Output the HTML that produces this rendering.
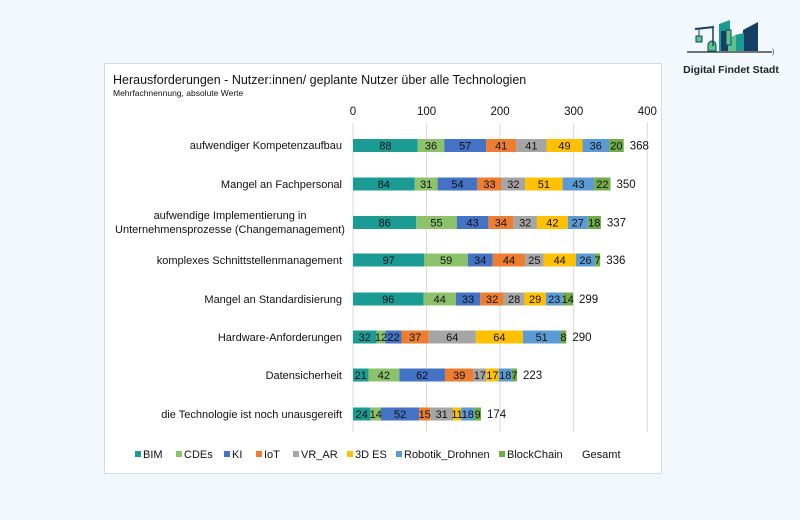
<!DOCTYPE html>
<html><head><meta charset="utf-8"><style>
html,body{margin:0;padding:0;width:800px;height:520px;background:#f3f8fc;overflow:hidden}
svg{display:block;font-family:"Liberation Sans",sans-serif}
.a{fill:#1a9c94}.b{fill:#8cc36a}.c{fill:#4472c4}.d{fill:#ed7d31}.e{fill:#a5a5a5}.f{fill:#ffc000}.g{fill:#5b9bd5}.h{fill:#70ad47}
.v text{font-size:11px;fill:#111;text-anchor:middle}
.v text.t{text-anchor:start;font-size:11.5px}
</style></head><body>
<svg width="800" height="520" xmlns="http://www.w3.org/2000/svg">
<g>
<line x1="687" y1="52" x2="772" y2="52" stroke="#444" stroke-width="1.5"/>
<polygon points="719,51 719,24 730,20 730,51" fill="#1a9c94"/>
<polygon points="721,51 721,31 728,31 728,51" fill="#163f66"/>
<polygon points="743,51 743,30 758,22 758,51" fill="#163f66"/>
<polygon points="735,51 735,35 744,33 744,51" fill="#1a9c94"/>
<polygon points="728,51 728,38 736,35 736,51" fill="#5cc48a"/>
<rect x="726" y="30" width="5" height="15" fill="#5cc48a" stroke="#163f66" stroke-width="1"/>
<path d="M708,51 v-6 a4,4 0 0 1 8,0 v6z" fill="#5cc48a" stroke="#163f66"/>
<line x1="695" y1="29" x2="714" y2="27" stroke="#163f66" stroke-width="2"/>
<line x1="713" y1="27" x2="713" y2="46" stroke="#163f66" stroke-width="1.5"/>
<line x1="699" y1="29" x2="699" y2="36" stroke="#163f66"/>
<rect x="696" y="36" width="6" height="6" fill="#5cc48a" stroke="#163f66"/>
<text x="772" y="54" font-size="7" fill="#333">)</text>
<text x="731" y="73" font-size="10.5" font-weight="bold" fill="#222" text-anchor="middle">Digital Findet Stadt</text>
</g>
<rect x="104.5" y="63.5" width="557" height="410" fill="#fff" stroke="#d6dbe0"/>
<text x="113" y="84" font-size="12.5" fill="#111">Herausforderungen - Nutzer:innen/ geplante Nutzer über alle Technologien</text>
<text x="113" y="96" font-size="8.5" fill="#111">Mehrfachnennung, absolute Werte</text>
<g stroke="#d9d9d9" stroke-width="1">
<line x1="353" y1="123" x2="353" y2="432"/>
<line x1="426.6" y1="123" x2="426.6" y2="432"/>
<line x1="500.1" y1="123" x2="500.1" y2="432"/>
<line x1="573.7" y1="123" x2="573.7" y2="432"/>
<line x1="647.3" y1="123" x2="647.3" y2="432"/>
</g>
<g font-size="11.5" fill="#111" text-anchor="middle">
<text x="353" y="115">0</text><text x="426.6" y="115">100</text><text x="500.1" y="115">200</text><text x="573.7" y="115">300</text><text x="647.3" y="115">400</text>
</g>
<g font-size="11" fill="#111" text-anchor="end">
<text x="342" y="149">aufwendiger Kompetenzaufbau</text>
<text x="342" y="188">Mangel an Fachpersonal</text>
<text x="230" y="219" text-anchor="middle">aufwendige Implementierung in</text>
<text x="230" y="233" text-anchor="middle">Unternehmensprozesse (Changemanagement)</text>
<text x="342" y="264">komplexes Schnittstellenmanagement</text>
<text x="342" y="303">Mangel an Standardisierung</text>
<text x="342" y="341">Hardware-Anforderungen</text>
<text x="342" y="379">Datensicherheit</text>
<text x="342" y="418">die Technologie ist noch unausgereift</text>
</g>

<g class="v" transform="translate(0,145.5)">
<rect class="a" x="353" y="-6.5" width="64.74" height="13"/><rect class="b" x="417.74" y="-6.5" width="26.49" height="13"/><rect class="c" x="444.23" y="-6.5" width="41.93" height="13"/><rect class="d" x="486.16" y="-6.5" width="30.17" height="13"/><rect class="e" x="516.33" y="-6.5" width="30.16" height="13"/><rect class="f" x="546.49" y="-6.5" width="36.05" height="13"/><rect class="g" x="582.54" y="-6.5" width="26.48" height="13"/><rect class="h" x="609.02" y="-6.5" width="14.72" height="13"/>
<text x="385.4" y="4">88</text><text x="431" y="4">36</text><text x="465.2" y="4">57</text><text x="501.2" y="4">41</text><text x="531.4" y="4">41</text><text x="564.5" y="4">49</text><text x="595.8" y="4">36</text><text x="616.4" y="4">20</text><text class="t" x="629.7" y="4">368</text>
</g>
<g class="v" transform="translate(0,184)">
<rect class="a" x="353" y="-6.5" width="61.8" height="13"/><rect class="b" x="414.8" y="-6.5" width="22.81" height="13"/><rect class="c" x="437.61" y="-6.5" width="39.72" height="13"/><rect class="d" x="477.33" y="-6.5" width="24.28" height="13"/><rect class="e" x="501.61" y="-6.5" width="23.54" height="13"/><rect class="f" x="525.15" y="-6.5" width="37.52" height="13"/><rect class="g" x="562.67" y="-6.5" width="31.64" height="13"/><rect class="h" x="594.31" y="-6.5" width="16.19" height="13"/>
<text x="383.9" y="4">84</text><text x="426.2" y="4">31</text><text x="457.5" y="4">54</text><text x="489.5" y="4">33</text><text x="513.4" y="4">32</text><text x="543.9" y="4">51</text><text x="578.5" y="4">43</text><text x="602.4" y="4">22</text><text class="t" x="616.5" y="4">350</text>
</g>
<g class="v" transform="translate(0,222.5)">
<rect class="a" x="353" y="-6.5" width="63.27" height="13"/><rect class="b" x="416.27" y="-6.5" width="40.46" height="13"/><rect class="c" x="456.73" y="-6.5" width="31.64" height="13"/><rect class="d" x="488.37" y="-6.5" width="25.01" height="13"/><rect class="e" x="513.38" y="-6.5" width="23.55" height="13"/><rect class="f" x="536.93" y="-6.5" width="30.89" height="13"/><rect class="g" x="567.82" y="-6.5" width="19.87" height="13"/><rect class="h" x="587.69" y="-6.5" width="13.24" height="13"/>
<text x="384.6" y="4">86</text><text x="436.5" y="4">55</text><text x="472.6" y="4">43</text><text x="500.9" y="4">34</text><text x="525.2" y="4">32</text><text x="552.4" y="4">42</text><text x="577.8" y="4">27</text><text x="594.3" y="4">18</text><text class="t" x="606.9" y="4">337</text>
</g>
<g class="v" transform="translate(0,260)">
<rect class="a" x="353" y="-6.5" width="71.36" height="13"/><rect class="b" x="424.36" y="-6.5" width="43.41" height="13"/><rect class="c" x="467.77" y="-6.5" width="25.01" height="13"/><rect class="d" x="492.78" y="-6.5" width="32.37" height="13"/><rect class="e" x="525.15" y="-6.5" width="18.4" height="13"/><rect class="f" x="543.55" y="-6.5" width="32.37" height="13"/><rect class="g" x="575.92" y="-6.5" width="19.13" height="13"/><rect class="h" x="595.05" y="-6.5" width="5.15" height="13"/>
<text x="388.7" y="4">97</text><text x="446.1" y="4">59</text><text x="480.3" y="4">34</text><text x="509" y="4">44</text><text x="534.4" y="4">25</text><text x="559.7" y="4">44</text><text x="585.5" y="4">26</text><text x="597.6" y="4">7</text><text class="t" x="606.2" y="4">336</text>
</g>
<g class="v" transform="translate(0,299)">
<rect class="a" x="353" y="-6.5" width="70.63" height="13"/><rect class="b" x="423.63" y="-6.5" width="32.37" height="13"/><rect class="c" x="456" y="-6.5" width="24.28" height="13"/><rect class="d" x="480.28" y="-6.5" width="23.54" height="13"/><rect class="e" x="503.82" y="-6.5" width="20.6" height="13"/><rect class="f" x="524.42" y="-6.5" width="21.33" height="13"/><rect class="g" x="545.75" y="-6.5" width="16.92" height="13"/><rect class="h" x="562.67" y="-6.5" width="10.3" height="13"/>
<text x="388.3" y="4">96</text><text x="439.8" y="4">44</text><text x="468.1" y="4">33</text><text x="492.1" y="4">32</text><text x="514.1" y="4">28</text><text x="535.1" y="4">29</text><text x="554.2" y="4">23</text><text x="567.8" y="4">14</text><text class="t" x="579" y="4">299</text>
</g>
<g class="v" transform="translate(0,337)">
<rect class="a" x="353" y="-6.5" width="23.54" height="13"/><rect class="b" x="376.54" y="-6.5" width="8.83" height="13"/><rect class="c" x="385.37" y="-6.5" width="16.19" height="13"/><rect class="d" x="401.56" y="-6.5" width="27.22" height="13"/><rect class="e" x="428.78" y="-6.5" width="47.08" height="13"/><rect class="f" x="475.86" y="-6.5" width="47.09" height="13"/><rect class="g" x="522.95" y="-6.5" width="37.52" height="13"/><rect class="h" x="560.47" y="-6.5" width="5.88" height="13"/>
<text x="364.8" y="4">32</text><text x="381" y="4">12</text><text x="393.5" y="4">22</text><text x="415.2" y="4">37</text><text x="452.3" y="4">64</text><text x="499.4" y="4">64</text><text x="541.7" y="4">51</text><text x="563.4" y="4">8</text><text class="t" x="572.4" y="4">290</text>
</g>
<g class="v" transform="translate(0,375)">
<rect class="a" x="353" y="-6.5" width="15.45" height="13"/><rect class="b" x="368.45" y="-6.5" width="30.9" height="13"/><rect class="c" x="399.35" y="-6.5" width="45.61" height="13"/><rect class="d" x="444.96" y="-6.5" width="28.69" height="13"/><rect class="e" x="473.65" y="-6.5" width="12.51" height="13"/><rect class="f" x="486.16" y="-6.5" width="12.51" height="13"/><rect class="g" x="498.67" y="-6.5" width="13.24" height="13"/><rect class="h" x="511.91" y="-6.5" width="5.15" height="13"/>
<text x="360.7" y="4">21</text><text x="383.9" y="4">42</text><text x="422.2" y="4">62</text><text x="459.3" y="4">39</text><text x="479.9" y="4">17</text><text x="492.4" y="4">17</text><text x="505.3" y="4">18</text><text x="514.5" y="4">7</text><text class="t" x="523" y="4">223</text>
</g>
<g class="v" transform="translate(0,414)">
<rect class="a" x="353" y="-6.5" width="17.66" height="13"/><rect class="b" x="370.66" y="-6.5" width="10.3" height="13"/><rect class="c" x="380.96" y="-6.5" width="38.25" height="13"/><rect class="d" x="419.21" y="-6.5" width="11.04" height="13"/><rect class="e" x="430.25" y="-6.5" width="22.81" height="13"/><rect class="f" x="453.06" y="-6.5" width="8.09" height="13"/><rect class="g" x="461.15" y="-6.5" width="13.24" height="13"/><rect class="h" x="474.39" y="-6.5" width="6.62" height="13"/>
<text x="361.8" y="4">24</text><text x="375.8" y="4">14</text><text x="400.1" y="4">52</text><text x="424.7" y="4">15</text><text x="441.7" y="4">31</text><text x="457.1" y="4">11</text><text x="467.8" y="4">18</text><text x="477.7" y="4">9</text><text class="t" x="487" y="4">174</text>
</g>

<g font-size="11" fill="#111">
<rect x="135" y="451" width="6" height="6" class="a"/><text x="143" y="458">BIM</text>
<rect x="176" y="451" width="6" height="6" class="b"/><text x="184" y="458">CDEs</text>
<rect x="224" y="451" width="6" height="6" class="c"/><text x="232" y="458">KI</text>
<rect x="256" y="451" width="6" height="6" class="d"/><text x="264" y="458">IoT</text>
<rect x="293" y="451" width="6" height="6" class="e"/><text x="301" y="458">VR_AR</text>
<rect x="347" y="451" width="6" height="6" class="f"/><text x="355" y="458">3D ES</text>
<rect x="396" y="451" width="6" height="6" class="g"/><text x="404" y="458">Robotik_Drohnen</text>
<rect x="499" y="451" width="6" height="6" class="h"/><text x="507" y="458">BlockChain</text>
<text x="582" y="458">Gesamt</text>
</g>
</svg>
</body></html>
